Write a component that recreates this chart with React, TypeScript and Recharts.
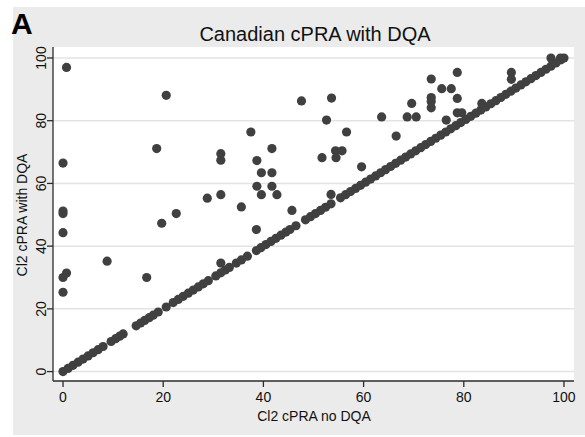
import {
  CartesianGrid,
  Scatter,
  ScatterChart,
  XAxis,
  YAxis,
} from "recharts";

// values where the two cPRA measures agree (the diagonal)
const diagonal = [
  0, 1, 2, 3, 4, 5, 6, 7, 8, 9.6, 10.5, 11.3, 12, 14.6, 15.5, 16.3, 17.2, 18, 19,
  20.6, 22, 23, 24, 25, 26, 27, 28, 29, 30.5, 31.5, 32.4, 33.2, 34.6, 35.6, 36.8,
  38.6, 39.5, 40.5, 41.5, 42.5, 43.5, 44.5, 45.3, 46.5, 48.4, 49.4, 50.4, 51.4, 52.4,
  53.5, 55.4, 56.4, 57.4, 58.4, 59.4, 60.4, 61.4, 62.4, 63.4, 64.4, 65.4, 66.4, 67.4,
  68.4, 69.4, 70.4, 71.4, 72.4, 73.4, 74.4, 75.4, 76.4, 77.4, 78.4, 79.4, 80.4, 81.4,
  82.4, 83.4, 84.4, 85.4, 86.4, 87.4, 88.4, 89.4, 90.4, 91.4, 92.4, 93.4, 94.4, 95.4,
  96.4, 97.4, 98.4, 99.4, 100,
];

// points above the diagonal
const offX = [
  0.7, 0, 0, 0, 0, 0, 0.7, 0, 8.8, 16.7, 19.7, 22.6, 28.8, 20.6, 18.7, 31.5, 31.5,
  31.5, 31.5, 35.6, 37.5, 38.7, 38.7, 38.6, 39.6, 39.6, 41.7, 41.7, 41.7, 42.7, 45.7,
  47.6, 51.7, 52.6, 53.6, 53.5, 54.4, 54.5, 55.7, 56.6, 59.6, 63.6, 66.5, 68.7, 69.6,
  70.5, 73.5, 73.5, 73.5, 73.5, 75.6, 77.5, 76.5, 78.7, 78.7, 78.7, 79.6, 83.6, 89.5,
  89.5, 97.4, 99.3,
];
const offY = [
  97, 66.5, 51.2, 50.4, 44.3, 30, 31.4, 25.3, 35.2, 30, 47.3, 50.4, 55.3, 88.1, 71.1,
  69.5, 67.4, 56.4, 34.6, 52.5, 76.4, 67.3, 59.1, 45.3, 63.4, 56.4, 71.1, 63.4, 59.1,
  56.4, 51.4, 86.3, 68.2, 80.2, 87.2, 56.5, 70.4, 68.2, 70.4, 76.4, 65.3, 81.2, 75.1,
  81.2, 85.5, 81.2, 93.3, 87.4, 86.1, 84.1, 90.2, 90.2, 80.2, 95.4, 87.1, 82.5, 82.5,
  85.5, 95.4, 93.2, 100, 100,
];

const ticks = [0, 20, 40, 60, 80, 100];

const points = [
  ...diagonal.map((v) => ({ x: v, y: v })),
  ...offX.map((x, i) => ({ x, y: offY[i] })),
];

const FONT = "'Liberation Sans', Arial, sans-serif";
const AXIS = "#2b2b2b";

function YTick({ x, y, payload }: any) {
  return (
    <text
      x={x + 1}
      y={y}
      transform={`rotate(-90 ${x + 1} ${y})`}
      textAnchor="middle"
      fontSize={14}
      fontFamily={FONT}
      fill="#111"
    >
      {payload.value}
    </text>
  );
}

function Dot({ cx, cy }: any) {
  return <circle cx={cx} cy={cy} r={4.6} fill="#404040" />;
}

export default function App() {
  return (
    <div style={{ position: "relative", width: 585, height: 437, background: "#fff", fontFamily: FONT }}>
      <style>{"body{margin:0}"}</style>
      <div style={{ position: "absolute", left: 13, top: 7, width: 572, height: 428, background: "#ebebeb" }} />
      <div style={{ position: "absolute", left: 11, top: 7, fontSize: 30, fontWeight: 700, color: "#000" }}>A</div>
      <div style={{ position: "absolute", left: 0, width: 630, top: 23, textAlign: "center", fontSize: 20, color: "#111" }}>
        Canadian cPRA with DQA
      </div>
      <div
        style={{
          position: "absolute",
          left: 22,
          top: 215,
          transform: "translate(-50%, -50%) rotate(-90deg)",
          whiteSpace: "nowrap",
          fontSize: 14,
          color: "#111",
        }}
      >
        Cl2 cPRA with DQA
      </div>
      <div style={{ position: "absolute", left: 0, width: 628, top: 408, textAlign: "center", fontSize: 14, color: "#111" }}>
        Cl2 cPRA no DQA
      </div>
      <div style={{ position: "absolute", left: 0, top: 0 }}>
        <ScatterChart width={585} height={437} margin={{ top: 47, right: 11, left: 23, bottom: 6 }}>
          <CartesianGrid
            fill="#fff"
            stroke="#e3e3e3"
            strokeWidth={1.5}
            vertical={false}
            horizontalValues={ticks}
          />
          <XAxis
            type="number"
            dataKey="x"
            domain={[-2, 102]}
            ticks={ticks}
            height={50}
            axisLine={{ stroke: AXIS, strokeWidth: 1.3 }}
            tickLine={{ stroke: AXIS, strokeWidth: 1.3 }}
            tickSize={6}
            tick={{ fill: "#111", fontSize: 14, fontFamily: FONT }}
            tickMargin={5}
            allowDataOverflow
          />
          <YAxis
            type="number"
            dataKey="y"
            domain={[-3, 103.5]}
            ticks={ticks}
            width={30}
            axisLine={{ stroke: AXIS, strokeWidth: 1.3 }}
            tickLine={{ stroke: AXIS, strokeWidth: 1.3 }}
            tickSize={6}
            tick={<YTick />}
            allowDataOverflow
          />
          <Scatter data={points} shape={<Dot />} isAnimationActive={false} />
        </ScatterChart>
      </div>
    </div>
  );
}
